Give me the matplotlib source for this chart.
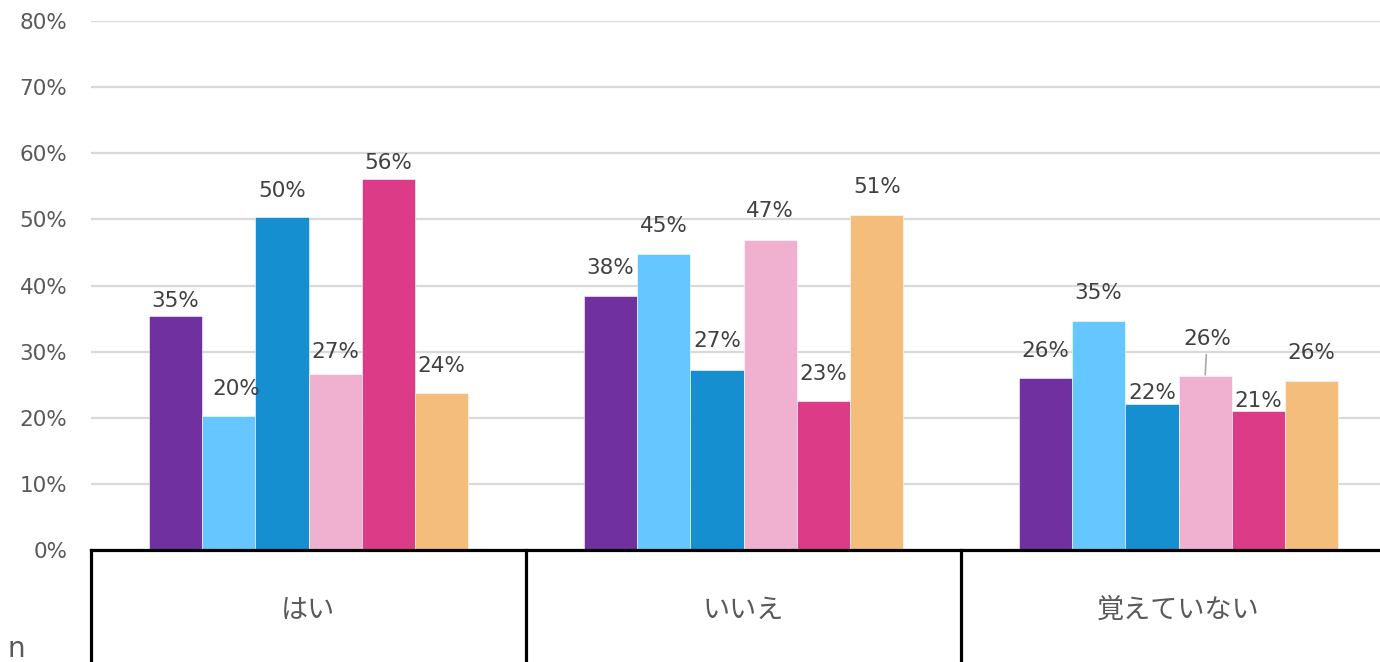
import matplotlib
matplotlib.use("Agg")
import matplotlib.pyplot as plt
import numpy as np

# ---- data ----
categories = ["はい", "いいえ", "覚えていない"]
series_s1 = [35.4, 38.4, 26.0]
series_s2 = [20.3, 44.8, 34.6]
series_s3 = [50.4, 27.2, 22.1]
series_s4 = [26.6, 46.9, 26.3]
series_s5 = [56.1, 22.6, 21.0]
series_s6 = [23.8, 50.6, 25.6]
y_ticks = [0, 10, 20, 30, 40, 50, 60, 70, 80]

series = [series_s1, series_s2, series_s3, series_s4, series_s5, series_s6]
colors = ["#7030A0", "#66C6FF", "#168FD0", "#F0B1D1", "#DC3C87", "#F4BD7B"]

# label offsets (pixels) relative to bar top centre: [series][category] -> (dx, dy)
label_offsets = [
    [(0, 15), (0, 28), (0, 27)],
    [(8, 27), (0, 28), (0, 28)],
    [(0, 26), (0, 29), (0, 11)],
    [(0, 22), (0, 29), (2, 37)],
    [(0, 16), (0, 27), (0, 10)],
    [(0, 27), (0, 28), (0, 28)],
]
leader = [[False] * 3 for _ in range(6)]
leader[3][2] = True

W, H = 1380, 662
fig = plt.figure(figsize=(W / 100, H / 100), dpi=100)
fig.patch.set_facecolor("white")

left_px, zero_px, top_px = 91, 550, 21
cell_px = 435
ax = fig.add_axes([left_px / W, (H - zero_px) / H, (W - left_px) / W, (zero_px - top_px) / H])
ax.set_xlim(0, (W - left_px) / cell_px)
ax.set_ylim(0, 80)

bw = 0.1225
n = len(series)
x = np.arange(len(categories)) + 0.5
for i, (vals, c) in enumerate(zip(series, colors)):
    xs = x + (i - (n - 1) / 2) * bw
    ax.bar(xs, vals, width=bw, color=c, edgecolor="white", linewidth=0.4, zorder=3)
    for j, (xx, v) in enumerate(zip(xs, vals)):
        dx, dy = label_offsets[i][j]
        kw = {}
        if leader[i][j]:
            kw["arrowprops"] = dict(arrowstyle="-", color="#a6a6a6", lw=1.2,
                                    shrinkA=2, shrinkB=1)
        ax.annotate(f"{round(v)}%", xy=(xx, v), xytext=(dx * 0.72, dy * 0.72),
                    textcoords="offset points", ha="center", va="center",
                    fontsize=15.5, color="#404040", family="DejaVu Sans", zorder=4, **kw)

ax.set_yticks(y_ticks)
ax.set_yticklabels([f"{t}%" for t in y_ticks], fontsize=15.5, color="#595959", family="DejaVu Sans")
ax.tick_params(axis="y", length=0, pad=17)
ax.set_xticks([])
ax.grid(axis="y", color="#d9d9d9", linewidth=1.6, zorder=0)
for s in ax.spines.values():
    s.set_visible(False)

ax.axhline(0, color="black", linewidth=2.3, zorder=5, clip_on=False)

trans = ax.get_xaxis_transform()
below = -(H - zero_px) / (zero_px - top_px)
for k in range(len(categories)):
    ax.plot([k, k], [0, below], transform=trans, color="black", linewidth=2.3,
            clip_on=False, zorder=5)
    ax.text(k + 0.5, -(610 - zero_px) / (zero_px - top_px), categories[k], transform=trans,
            ha="center", va="center", fontsize=19.5, color="#595959",
            family=["Noto Sans CJK JP", "DejaVu Sans"])

fig.text(8 / W, 1 - 649 / H, "n", fontsize=20, color="#595959", ha="left", va="center",
         family="DejaVu Sans")

fig.savefig("out.png", dpi=100, facecolor="white")
